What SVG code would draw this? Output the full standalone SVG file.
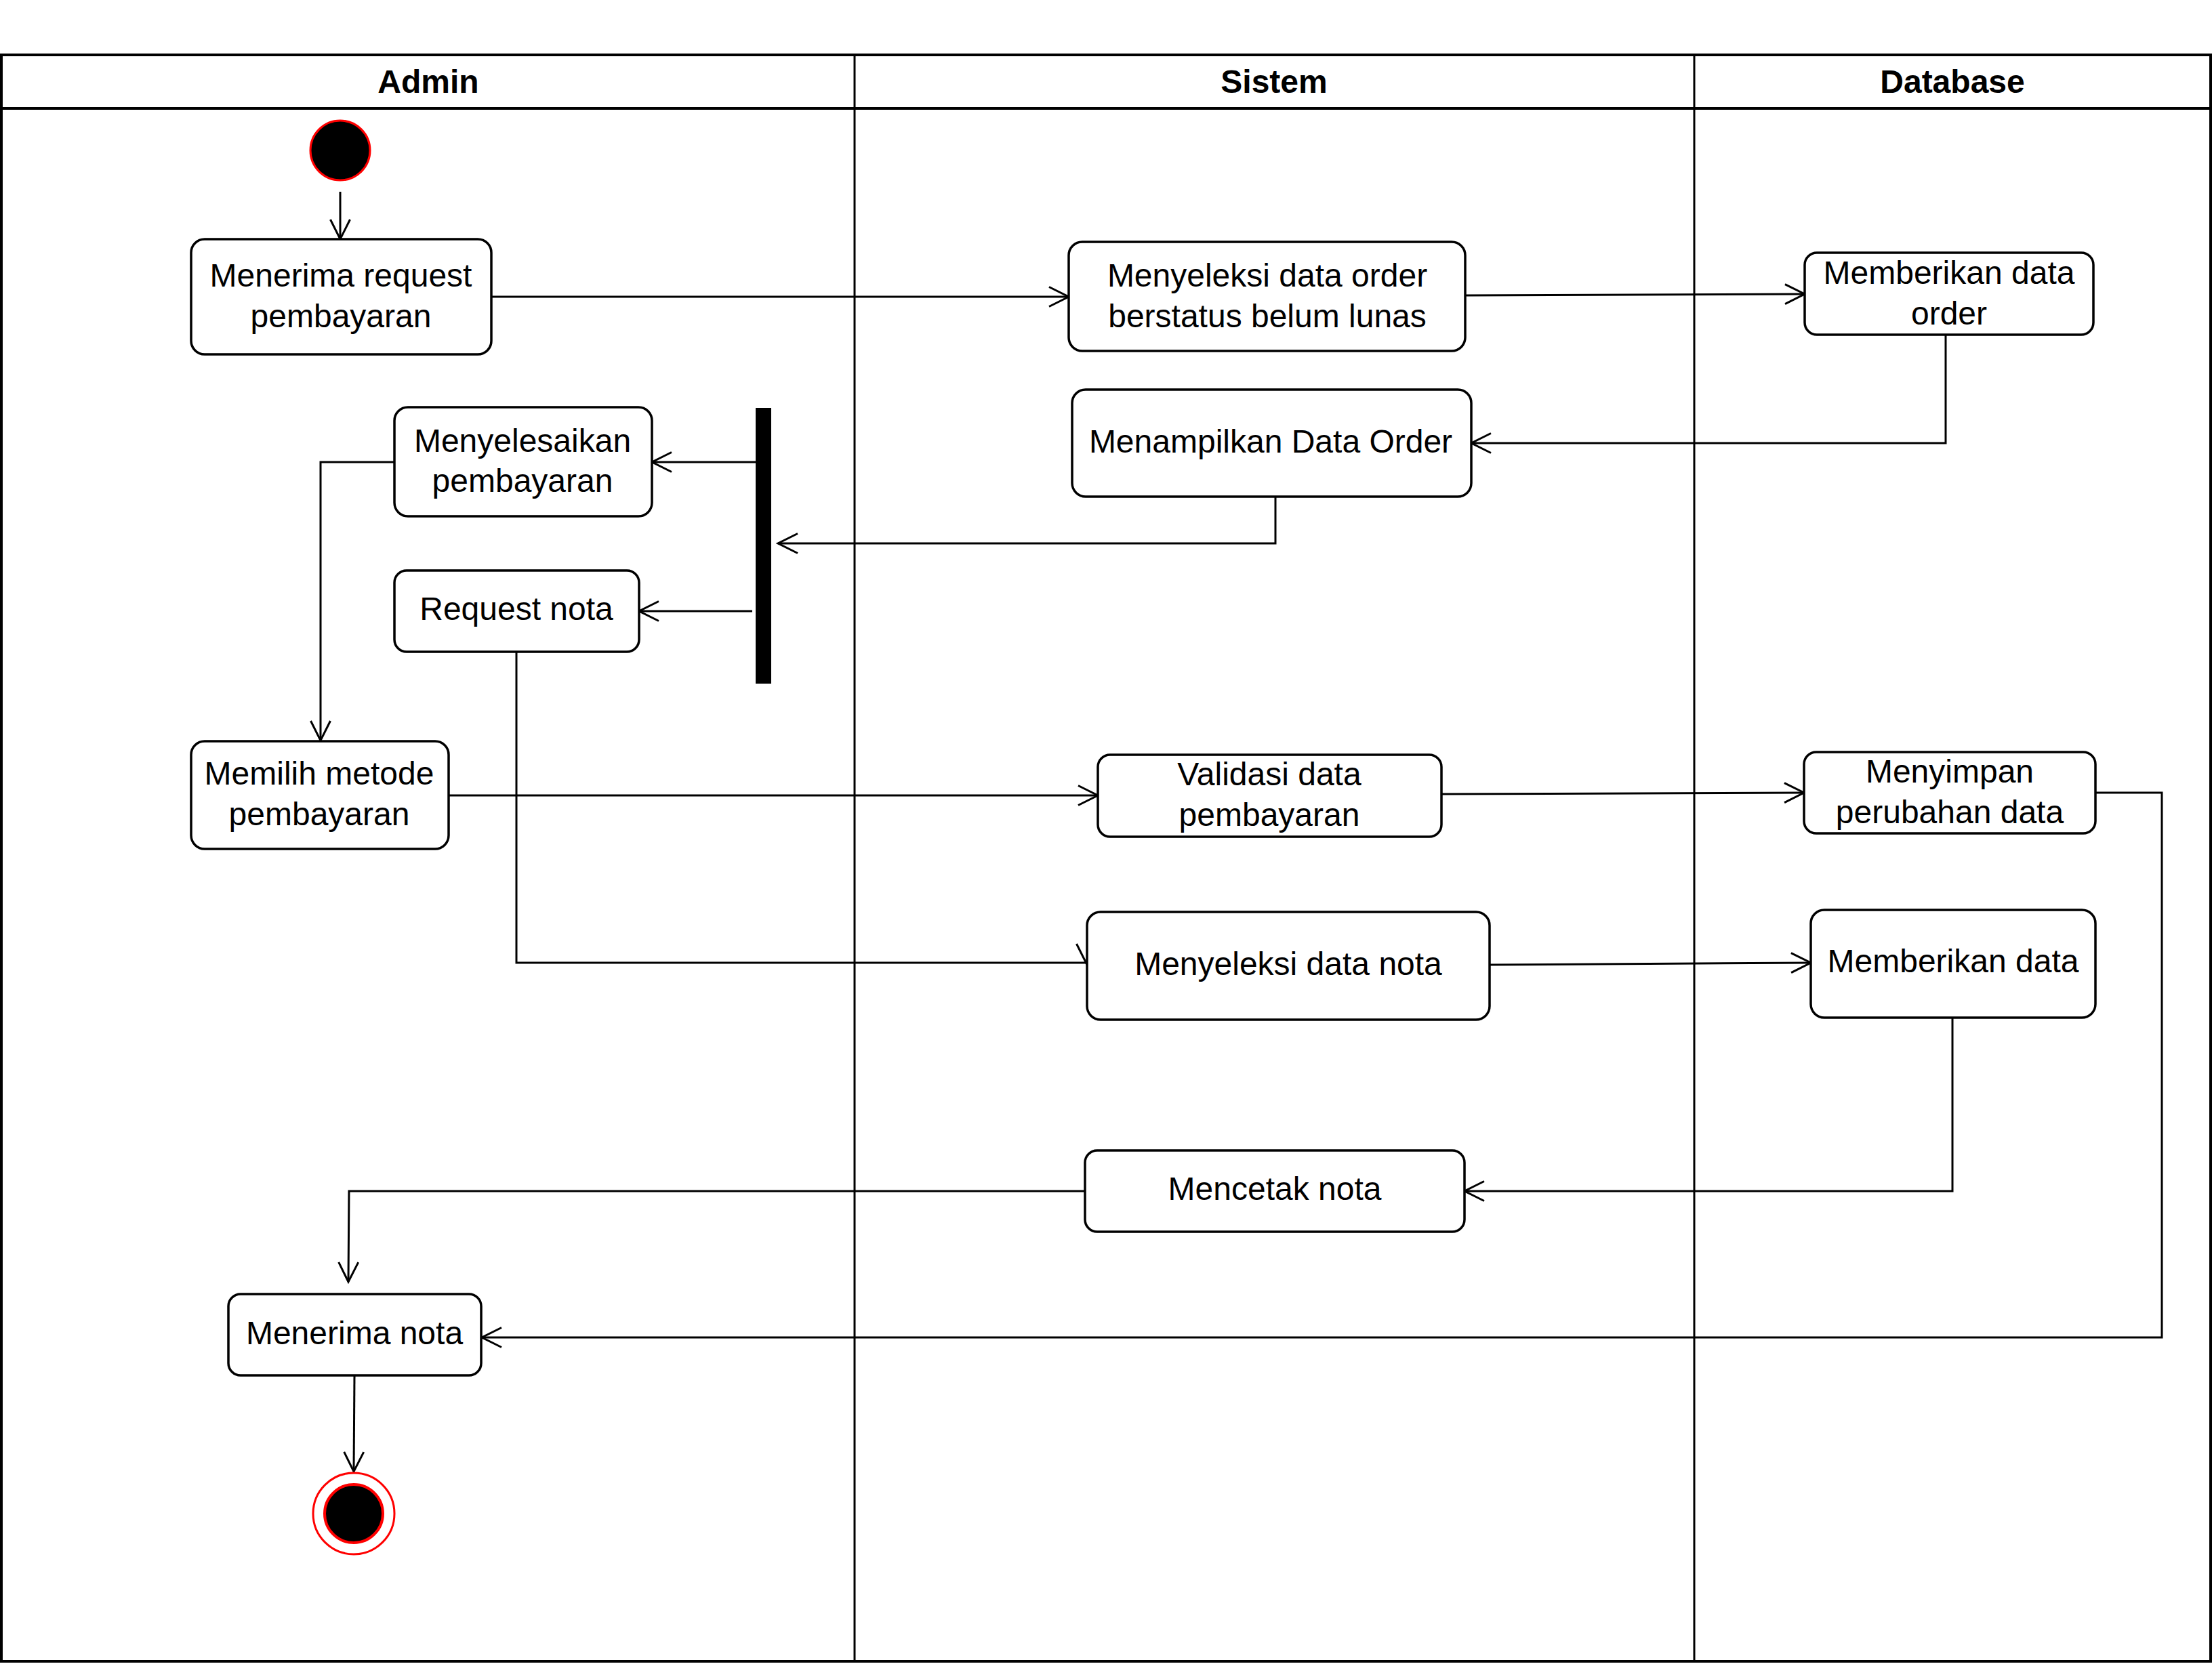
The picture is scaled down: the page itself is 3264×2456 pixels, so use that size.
<svg xmlns="http://www.w3.org/2000/svg" width="3264" height="2456" viewBox="0 0 3264 2456">
  <style>
    .lane { fill: none; stroke: #000; stroke-width: 4; }
    .divider { stroke: #000; stroke-width: 3; }
    .head { font-family: "Liberation Sans", Arial, sans-serif; font-size: 48px; font-weight: bold; text-anchor: middle; fill: #000; }
    .act rect { fill: #fff; stroke: #000; stroke-width: 3.5; }
    .act text { font-family: "Liberation Sans", Arial, sans-serif; font-size: 48px; text-anchor: middle; fill: #000; }
    .edge { fill: none; stroke: #000; stroke-width: 3; marker-end: url(#open); }
  </style>
  <defs>
    <marker id="open" markerUnits="userSpaceOnUse" markerWidth="40" markerHeight="40" refX="0" refY="0" orient="auto" overflow="visible">
      <path d="M -29 -14.5 L 0 0 L -29 14.5" fill="none" stroke="#000" stroke-width="3"/>
    </marker>
  </defs>

  <rect width="3264" height="2456" fill="#fff"/>

  <!-- swimlane frame -->
  <g id="lanes">
    <rect class="lane" x="2" y="81" width="3260" height="2371"/>
    <line class="lane" x1="2" y1="160" x2="3262" y2="160"/>
    <line class="divider" x1="1261" y1="81" x2="1261" y2="2452"/>
    <line class="divider" x1="2500" y1="81" x2="2500" y2="2452"/>
    <text class="head" x="632" y="137">Admin</text>
    <text class="head" x="1880" y="137">Sistem</text>
    <text class="head" x="2881" y="137">Database</text>
  </g>

  <!-- connectors -->
  <g id="connectors">
    <path class="edge" d="M502,283 V353"/>
    <path class="edge" d="M725,438 H1577"/>
    <path class="edge" d="M2162,436 L2663,434"/>
    <path class="edge" d="M2871,494 V654 H2171"/>
    <path class="edge" d="M1882,733 V802 H1148"/>
    <path class="edge" d="M1115,682 H962"/>
    <path class="edge" d="M1110,902 H943"/>
    <path class="edge" d="M582,682 H473 V1093"/>
    <path class="edge" d="M662,1174 H1620"/>
    <path class="edge" d="M2127,1172 L2662,1170"/>
    <path class="edge" d="M762,962 V1421 H1603 V1422"/>
    <path class="edge" d="M2198,1424 L2672,1421"/>
    <path class="edge" d="M2881,1502 V1758 H2161"/>
    <path class="edge" d="M1601,1758 H515 L514,1892"/>
    <path class="edge" d="M3092,1170 H3190 V1974 H711"/>
    <path class="edge" d="M523,2030 L522,2172"/>
  </g>

  <!-- initial node -->
  <g id="start">
    <circle cx="502" cy="222" r="44" fill="#000" stroke="#f00" stroke-width="3"/>
  </g>

  <g id="menerima-request" class="act">
    <rect x="282" y="353" width="443" height="170" rx="20"/>
    <text x="503" y="423">Menerima request</text>
    <text x="503" y="483">pembayaran</text>
  </g>

  <g id="menyeleksi-order" class="act">
    <rect x="1577" y="357" width="585" height="161" rx="20"/>
    <text x="1870" y="423">Menyeleksi data order</text>
    <text x="1870" y="483">berstatus belum lunas</text>
  </g>

  <g id="memberikan-order" class="act">
    <rect x="2663" y="373" width="426" height="121" rx="18"/>
    <text x="2876" y="419">Memberikan data</text>
    <text x="2876" y="479">order</text>
  </g>

  <g id="menampilkan-order" class="act">
    <rect x="1582" y="575" width="589" height="158" rx="20"/>
    <text x="1875" y="668">Menampilkan Data Order</text>
  </g>

  <!-- fork bar -->
  <g id="fork">
    <rect x="1115" y="602" width="23" height="407" fill="#000"/>
  </g>

  <g id="menyelesaikan" class="act">
    <rect x="582" y="601" width="380" height="161" rx="20"/>
    <text x="771" y="667">Menyelesaikan</text>
    <text x="771" y="726">pembayaran</text>
  </g>

  <g id="request-nota" class="act">
    <rect x="582" y="842" width="361" height="120" rx="18"/>
    <text x="762" y="915">Request nota</text>
  </g>

  <g id="memilih-metode" class="act">
    <rect x="282" y="1094" width="380" height="159" rx="20"/>
    <text x="471" y="1158">Memilih metode</text>
    <text x="471" y="1218">pembayaran</text>
  </g>

  <g id="validasi" class="act">
    <rect x="1620" y="1114" width="507" height="121" rx="18"/>
    <text x="1873" y="1159">Validasi data</text>
    <text x="1873" y="1219">pembayaran</text>
  </g>

  <g id="menyimpan" class="act">
    <rect x="2662" y="1110" width="430" height="120" rx="18"/>
    <text x="2877" y="1155">Menyimpan</text>
    <text x="2877" y="1215">perubahan data</text>
  </g>

  <g id="menyeleksi-nota" class="act">
    <rect x="1604" y="1346" width="594" height="159" rx="20"/>
    <text x="1901" y="1439">Menyeleksi data nota</text>
  </g>

  <g id="memberikan-data" class="act">
    <rect x="2672" y="1343" width="420" height="159" rx="20"/>
    <text x="2882" y="1435">Memberikan data</text>
  </g>

  <g id="mencetak-nota" class="act">
    <rect x="1601" y="1698" width="560" height="120" rx="18"/>
    <text x="1881" y="1771">Mencetak nota</text>
  </g>

  <g id="menerima-nota" class="act">
    <rect x="337" y="1910" width="373" height="120" rx="18"/>
    <text x="523" y="1984">Menerima nota</text>
  </g>

  <!-- final node -->
  <g id="end">
    <circle cx="522" cy="2234" r="60" fill="#fff" stroke="#f00" stroke-width="3"/>
    <circle cx="522" cy="2234" r="43" fill="#000" stroke="#f00" stroke-width="4"/>
  </g>
</svg>
